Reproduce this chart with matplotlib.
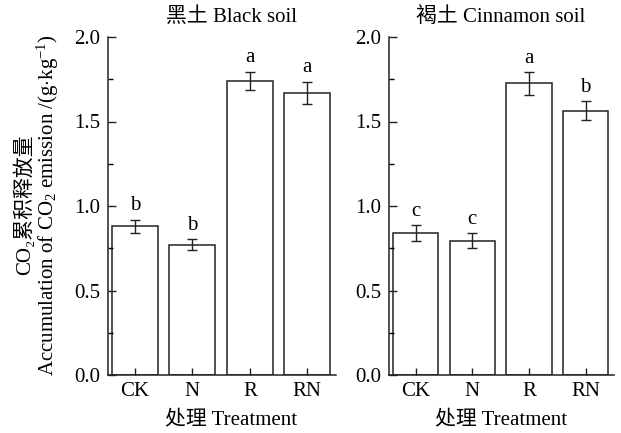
import numpy as np
import matplotlib
matplotlib.use("Agg")
import matplotlib.pyplot as plt
from matplotlib.ticker import MultipleLocator

plt.rcParams['font.family'] = ['Liberation Serif', 'Noto Sans CJK SC', 'DejaVu Serif']
plt.rcParams['mathtext.fontset'] = 'custom'
plt.rcParams['mathtext.rm'] = 'Liberation Serif'
plt.rcParams['mathtext.it'] = 'Liberation Serif:italic'
plt.rcParams['font.size'] = 15

treatments = ['CK', 'N', 'R', 'RN']

black_mean = [0.88, 0.77, 1.74, 1.67]
black_err = [0.04, 0.032, 0.055, 0.066]
black_sig = ['b', 'b', 'a', 'a']

cinn_mean = [0.84, 0.795, 1.725, 1.565]
cinn_err = [0.046, 0.045, 0.067, 0.056]
cinn_sig = ['c', 'c', 'a', 'b']

panels = [
    ('黑土 Black soil', black_mean, black_err, black_sig),
    ('褐土 Cinnamon soil', cinn_mean, cinn_err, cinn_sig),
]

W, H = 621, 433
fig = plt.figure(figsize=(W / 100, H / 100), dpi=100)

# axes boxes in pixels: left, right, top, bottom
boxes = [(108, 336, 37, 375), (389, 614, 37, 375)]
label_centers = [231, 501]

x = np.arange(len(treatments))
for (title, mean, err, sig), (l, r, t, b), cx in zip(panels, boxes, label_centers):
    ax = fig.add_axes([l / W, 1 - b / H, (r - l) / W, (b - t) / H])
    ax.bar(x, mean, width=0.8, color='white', edgecolor='#222222', linewidth=1.1,
           yerr=err, capsize=3.5, error_kw=dict(elinewidth=1.0, capthick=1.0, ecolor='#222222'))
    for xi, m, e, s in zip(x, mean, err, sig):
        ax.annotate(s, (xi, m + e), xytext=(0, 3), textcoords='offset points',
                    ha='center', va='bottom', fontsize=15)
    ax.set_ylim(0, 2.0)
    ax.set_xlim(-0.47, 3.5)
    ax.set_xticks(x)
    ax.set_xticklabels(treatments)
    ax.yaxis.set_major_locator(MultipleLocator(0.5))
    ax.yaxis.set_minor_locator(MultipleLocator(0.25))
    ax.yaxis.set_major_formatter(matplotlib.ticker.FormatStrFormatter('%.1f'))
    ax.tick_params(axis='both', direction='in', width=1.0, labelsize=15, color='#222222')
    ax.tick_params(axis='y', which='major', length=6, pad=5.5)
    ax.tick_params(axis='y', which='minor', length=3.5, direction='in', width=1.0)
    ax.tick_params(axis='x', length=5, pad=5)
    ax.spines['top'].set_visible(False)
    ax.spines['right'].set_visible(False)
    for sp in ('left', 'bottom'):
        ax.spines[sp].set_linewidth(1.1)
        ax.spines[sp].set_color('#222222')
    fig.text(cx / W, 1 - 17 / H, title, ha='center', va='center', fontsize=15)
    fig.text(cx / W, 1 - 421 / H, '处理 Treatment', ha='center', va='center', fontsize=15)

fig.text(24 / W, 1 - 205 / H, 'CO\u2082累积释放量', rotation=90,
         ha='center', va='center', fontsize=15)
fig.text(48 / W, 1 - 205 / H, 'Accumulation of CO$_2$ emission /(g$\\cdot$kg$^{-1}$)',
         rotation=90, ha='center', va='center', fontsize=15)

fig.savefig('out.png', dpi=100)
